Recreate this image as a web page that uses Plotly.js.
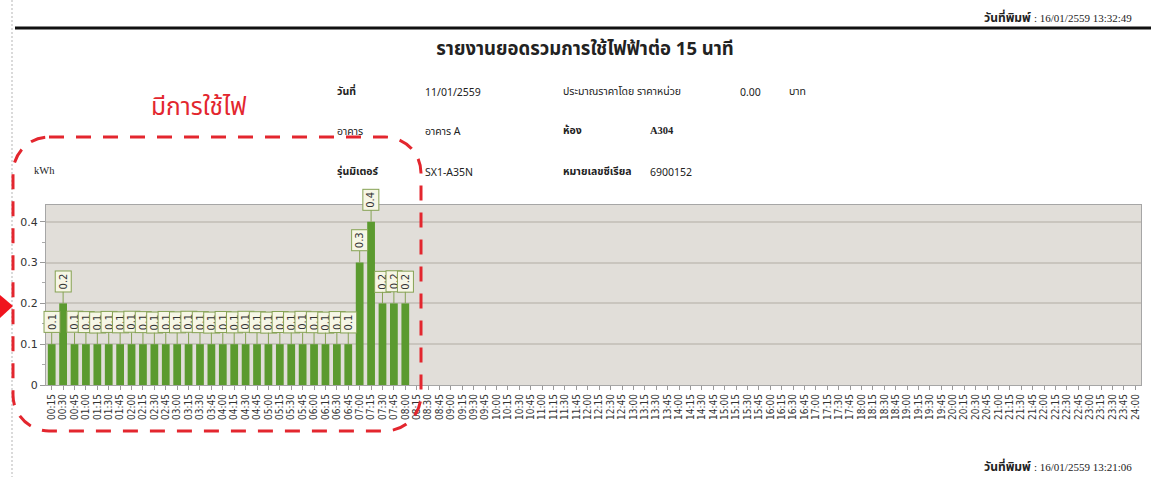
<!DOCTYPE html>
<html>
<head>
<meta charset="utf-8">
<script src="https://cdn.plot.ly/plotly-3.0.1.min.js"></script>
<style>
  html, body { margin:0; padding:0; background:#fff; }
  #page { position:relative; width:1151px; height:477px; overflow:hidden; background:#fff; font-family:"Noto Sans Thai","Noto Sans","DejaVu Sans",sans-serif; }
  #chart { position:absolute; left:0; top:0; width:1151px; height:477px; }
  .t { position:absolute; white-space:nowrap; color:#222; }
  .info { font-size:10.5px; }
  .ser { font-family:"Liberation Serif","DejaVu Serif",serif; }
  #overlay { position:absolute; left:0; top:0; pointer-events:none; }
</style>
</head>
<body>
<div id="page">
  <div id="chart"></div>
  <svg id="overlay" width="1151" height="477">
    <line x1="12" y1="0" x2="12" y2="477" stroke="#b5b5b5" stroke-width="1" stroke-dasharray="2,2"/>
    <line x1="15" y1="28" x2="1151" y2="28" stroke="#111" stroke-width="3"/>
    <rect x="13" y="137" width="408" height="294" rx="36" ry="36" fill="none" stroke="#e3262e" stroke-width="3" stroke-dasharray="15,12"/>
    <polygon points="0,295 13,306 0,318" fill="#f0141e"/>
  </svg>
  <div class="t" style="left:984px;top:9px;font-size:12px;"><b>วันที่พิมพ์</b> <span class="ser" style="font-size:11px">: 16/01/2559 13:32:49</span></div>
  <div class="t" style="left:422px;top:35px;font-size:18.5px;font-weight:bold;width:326px;text-align:center;">รายงานยอดรวมการใช้ไฟฟ้าต่อ 15 นาที</div>

  <div class="t" style="left:151px;top:89px;font-size:24.5px;color:#e3262e;">มีการใช้ไฟ</div>

  <div class="t info" style="left:337px;top:84px;font-weight:bold;">วันที่</div>
  <div class="t info" style="left:425px;top:85px;">11/01/2559</div>
  <div class="t info" style="left:563px;top:84px;">ประมาณราคาโดย ราคาหน่วย</div>
  <div class="t info" style="left:740px;top:85px;">0.00</div>
  <div class="t info" style="left:789px;top:84px;">บาท</div>

  <div class="t info" style="left:337px;top:124px;">อาคาร</div>
  <div class="t info" style="left:425px;top:124px;">อาคาร A</div>
  <div class="t info" style="left:563px;top:123px;font-weight:bold;">ห้อง</div>
  <div class="t info ser" style="left:650px;top:125px;font-weight:bold;">A304</div>

  <div class="t info ser" style="left:34px;top:165px;">kWh</div>
  <div class="t info" style="left:337px;top:164px;font-weight:bold;">รุ่นมิเตอร์</div>
  <div class="t info" style="left:425px;top:165px;">SX1-A35N</div>
  <div class="t info" style="left:563px;top:164px;font-weight:bold;">หมายเลขซีเรียล</div>
  <div class="t info" style="left:650px;top:165px;">6900152</div>

  <div class="t" style="left:984px;top:458px;font-size:12px;"><b>วันที่พิมพ์</b> <span class="ser" style="font-size:11px">: 16/01/2559 13:21:06</span></div>
</div>
<script>
const timeSlots = [
 "00:15","00:30","00:45","01:00","01:15","01:30","01:45","02:00",
 "02:15","02:30","02:45","03:00","03:15","03:30","03:45","04:00",
 "04:15","04:30","04:45","05:00","05:15","05:30","05:45","06:00",
 "06:15","06:30","06:45","07:00","07:15","07:30","07:45","08:00",
 "08:15","08:30","08:45","09:00","09:15","09:30","09:45","10:00",
 "10:15","10:30","10:45","11:00","11:15","11:30","11:45","12:00",
 "12:15","12:30","12:45","13:00","13:15","13:30","13:45","14:00",
 "14:15","14:30","14:45","15:00","15:15","15:30","15:45","16:00",
 "16:15","16:30","16:45","17:00","17:15","17:30","17:45","18:00",
 "18:15","18:30","18:45","19:00","19:15","19:30","19:45","20:00",
 "20:15","20:30","20:45","21:00","21:15","21:30","21:45","22:00",
 "22:15","22:30","22:45","23:00","23:15","23:30","23:45","24:00"
];
// kWh per 15-minute slot (recorded slots 00:15 - 08:00)
const usageKWh = [
 0.1,0.2,0.1,0.1,0.1,0.1,0.1,0.1,
 0.1,0.1,0.1,0.1,0.1,0.1,0.1,0.1,
 0.1,0.1,0.1,0.1,0.1,0.1,0.1,0.1,
 0.1,0.1,0.1,0.3,0.4,0.2,0.2,0.2
];
const yTicks = [0, 0.1, 0.2, 0.3, 0.4];

const usedSlots = timeSlots.slice(0, usageKWh.length);

const trace = {
  type: 'bar',
  x: usedSlots,
  y: usageKWh,
  marker: { color: '#5b9a2f', line: { width: 0 } },
  hoverinfo: 'x+y'
};

const labelAnns = usageKWh.map((v, i) => ({
  x: usedSlots[i], y: v, xref: 'x', yref: 'y',
  text: v.toFixed(1),
  textangle: -90,
  font: { family: 'DejaVu Sans, sans-serif', size: 10, color: '#333' },
  bgcolor: '#f6f6e6', bordercolor: '#86a254', borderwidth: 1, borderpad: 2,
  showarrow: true, arrowhead: 0, arrowwidth: 1, arrowcolor: '#86a254',
  ax: 0, ay: -22
}));

const layout = {
  width: 1151, height: 477,
  margin: { l: 46, r: 10, t: 205, b: 92, pad: 0 },
  paper_bgcolor: 'rgba(0,0,0,0)',
  plot_bgcolor: '#e1ded9',
  showlegend: false,
  bargap: 0.32,
  font: { family: 'DejaVu Sans, sans-serif', color: '#333' },
  xaxis: {
    type: 'category',
    categoryorder: 'array', categoryarray: timeSlots,
    range: [-0.5, timeSlots.length - 0.5],
    tickmode: 'array', tickvals: timeSlots, ticktext: timeSlots,
    tickangle: -90,
    tickfont: { family: 'DejaVu Sans Condensed, DejaVu Sans, sans-serif', size: 10, color: '#333' },
    ticks: 'outside', ticklen: 4, tickcolor: '#999',
    showline: true, linecolor: '#a6a6a6', linewidth: 1, mirror: true,
    showgrid: false, zeroline: false, fixedrange: true
  },
  yaxis: {
    range: [0, 0.441],
    tickmode: 'array', tickvals: yTicks, ticktext: yTicks.map(v => v === 0 ? '0' : v.toFixed(1)),
    tickfont: { family: 'DejaVu Sans, sans-serif', size: 11, color: '#333' },
    ticks: 'outside', ticklen: 5, tickcolor: '#999',
    minor: { dtick: 0.05, ticks: 'outside', ticklen: 3, tickcolor: '#aaa', showgrid: false },
    showgrid: true, gridcolor: '#c9c5be', gridwidth: 2,
    showline: true, linecolor: '#a6a6a6', linewidth: 1, mirror: true,
    zeroline: false, fixedrange: true
  },
  annotations: labelAnns
};

Plotly.newPlot('chart', [trace], layout, { displayModeBar: false, staticPlot: true });
</script>
</body>
</html>
